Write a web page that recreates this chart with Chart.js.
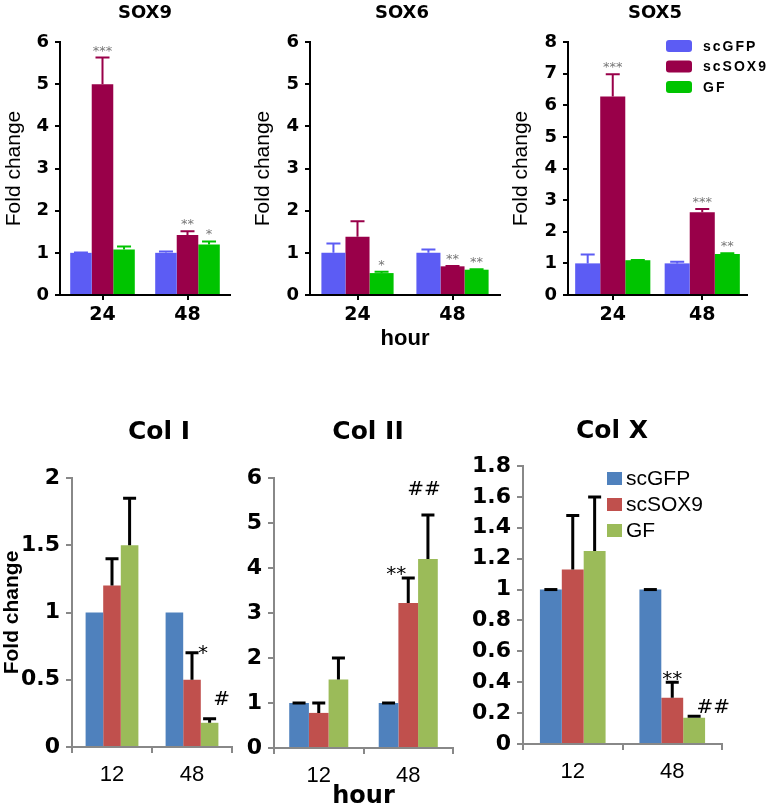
<!DOCTYPE html>
<html>
<head>
<meta charset="utf-8">
<script src="https://cdn.jsdelivr.net/npm/chart.js@4.4.1/dist/chart.umd.min.js"></script>
<style>
  body { margin: 0; background: #fff; width: 771px; height: 811px; overflow: hidden; position: relative; }
  canvas { position: absolute; }
</style>
</head>
<body>
<canvas id="sox9"></canvas>
<canvas id="sox6"></canvas>
<canvas id="sox5"></canvas>
<canvas id="col1"></canvas>
<canvas id="col2"></canvas>
<canvas id="colx"></canvas>
<script>
const groups = ['scGFP', 'scSOX9', 'GF'];
const hoursTop = ['24', '48'];
const hoursBottom = ['12', '48'];

// upper row (SOX genes), one array per group: [24 h, 48 h]
const sox9GFP = [1.0, 1.0], sox9SOX9 = [5.0, 1.42], sox9GF = [1.08, 1.2];
const sox9Err = [[0.01, 0.03], [0.63, 0.09], [0.07, 0.07]];
const sox9Stars = [['', ''], ['***', '**'], ['', '*']];

const sox6GFP = [1.0, 1.0], sox6SOX9 = [1.38, 0.68], sox6GF = [0.52, 0.6];
const sox6Err = [[0.22, 0.08], [0.37, 0.01], [0.03, 0.01]];
const sox6Stars = [['', ''], ['', '**'], ['*', '**']];

const sox5GFP = [1.0, 1.0], sox5SOX9 = [6.28, 2.62], sox5GF = [1.1, 1.3];
const sox5Err = [[0.28, 0.05], [0.7, 0.1], [0.01, 0.02]];
const sox5Stars = [['', ''], ['***', '***'], ['', '**']];

// lower row (collagens): [12 h, 48 h]
const col1GFP = [1.0, 1.0], col1SOX9 = [1.2, 0.5], col1GF = [1.5, 0.18];
const col1Err = [[null, null], [0.2, 0.2], [0.35, 0.03]];
const col1Marks = [['', ''], ['', '*'], ['', '#']];

const col2GFP = [1.0, 1.0], col2SOX9 = [0.78, 3.22], col2GF = [1.52, 4.2];
const col2Err = [[0, 0], [0.22, 0.56], [0.48, 0.98]];
const col2Marks = [['', ''], ['', '**'], ['', '##']];

const colxGFP = [1.0, 1.0], colxSOX9 = [1.13, 0.3], colxGF = [1.25, 0.17];
const colxErr = [[0, 0], [0.35, 0.1], [0.35, 0.01]];
const colxMarks = [['', ''], ['', '**'], ['', '##']];

const ticks6 = [0, 1, 2, 3, 4, 5, 6];
const ticks8 = [0, 1, 2, 3, 4, 5, 6, 7, 8];
const ticks2 = [0, 0.5, 1, 1.5, 2];
const ticks18 = [0, 0.2, 0.4, 0.6, 0.8, 1, 1.2, 1.4, 1.6, 1.8];

const topColors = ['#5c5cf4', '#990049', '#00c400'];
const botColors = ['#4f81bd', '#c0504d', '#9bbb59'];

const dv = (size, weight) => ({ family: 'DejaVu Sans', size, weight: weight || 'normal' });
const ls = (size, weight) => ({ family: 'Liberation Sans', size, weight: weight || 'normal' });
const css = f => `${f.weight} ${f.size}px "${f.family}"`;

const topStyle = {
  colors: topColors, errColor: null, errWidth: 2, capWidth: 14, catPct: 0.76,
  axisColor: '#000', tickLen: 5, yPad: 6, xPad: 4, xTickOffset: false,
  yTickFont: dv(18, 'bold'), xTickFont: dv(19, 'bold'), yTitleFont: ls(21), xTitleFont: ls(22, 'bold'),
  yTitlePad: 2, titleFont: dv(18, 'bold'), markFont: dv(13), markColor: '#777'
};
const botStyle = {
  colors: botColors, errColor: '#000', errWidth: 3, capWidth: 13, catPct: 0.66,
  axisColor: '#888', tickLen: 6, yPad: 6, xPad: 9, xTickOffset: true,
  yTickFont: dv(22, 'bold'), xTickFont: ls(22), yTitleFont: ls(21, 'bold'), xTitleFont: dv(24, 'bold'),
  yTitlePad: 0, titleFont: dv(25, 'bold'), markFont: dv(20), markColor: '#000'
};

const specs = {
  sox9: Object.assign({}, topStyle, {
    left: 0, top: 0, width: 250, height: 330, padTop: 42, padRight: 20, yW: 60, xH: 35,
    labels: hoursTop, series: [sox9GFP, sox9SOX9, sox9GF], errors: sox9Err, marks: sox9Stars,
    yMax: 6, yTicks: ticks6, yTitle: true, xTitle: false, title: 'SOX9', titleX: 145, titleY: 13
  }),
  sox6: Object.assign({}, topStyle, {
    left: 249, top: 0, width: 255, height: 352, padTop: 42, padRight: 4, yW: 61, xH: 57,
    labels: hoursTop, series: [sox6GFP, sox6SOX9, sox6GF], errors: sox6Err, marks: sox6Stars,
    yMax: 6, yTicks: ticks6, yTitle: true, xTitle: true, title: 'SOX6', titleX: 402, titleY: 13
  }),
  sox5: Object.assign({}, topStyle, {
    left: 507, top: 0, width: 264, height: 330, padTop: 42, padRight: 24, yW: 61, xH: 35, catPct: 0.84,
    labels: hoursTop, series: [sox5GFP, sox5SOX9, sox5GF], errors: sox5Err, marks: sox5Stars,
    yMax: 8, yTicks: ticks8, yTitle: true, xTitle: false, title: 'SOX5', titleX: 655, titleY: 13,
    legend: { dx: 98, dy: -2, boxW: 26, boxH: 12, row: 20.5, gap: 11, radius: 3, font: ls(14, 'bold'), spacing: '2px', rounded: true }
  }),
  col1: Object.assign({}, botStyle, {
    left: 0, top: 400, width: 250, height: 411, padTop: 78, padRight: 18, yW: 72, xH: 64,
    labels: hoursBottom, series: [col1GFP, col1SOX9, col1GF], errors: col1Err, marks: col1Marks,
    markOffsets: [[null, null], [null, [11, 6]], [null, [12, -14]]],
    yMax: 2, yTicks: ticks2, yTitle: true, xTitle: false, title: 'Col I', titleX: 159, titleY: 432
  }),
  col2: Object.assign({}, botStyle, {
    left: 240, top: 400, width: 240, height: 411, padTop: 78, padRight: 27, yW: 34, xH: 63,
    labels: hoursBottom, series: [col2GFP, col2SOX9, col2GF], errors: col2Err, marks: col2Marks,
    markOffsets: [[null, null], [null, [-12, 2]], [null, [-4, -20]]],
    yMax: 6, yTicks: ticks6, yTitle: false, xTitle: true, title: 'Col II', titleX: 368, titleY: 432
  }),
  colx: Object.assign({}, botStyle, {
    left: 455, top: 400, width: 316, height: 411, padTop: 66, padRight: 49, yW: 68, xH: 67,
    labels: hoursBottom, series: [colxGFP, colxSOX9, colxGF], errors: colxErr, marks: colxMarks,
    markOffsets: [[null, null], [null, [0, 3]], [null, [19, -3]]],
    yMax: 1.8, yTicks: ticks18, yTitle: false, xTitle: false, title: 'Col X', titleX: 612, titleY: 431,
    legend: { dx: 84, dy: 6, boxW: 15, boxH: 13, row: 26, gap: 4, radius: 0, font: ls(21), spacing: '0px', rounded: false }
  })
};

const errorBars = {
  id: 'errorBars',
  afterDatasetsDraw(chart) {
    const p = specs[chart.canvas.id], ctx = chart.ctx, y = chart.scales.y;
    ctx.save();
    p.series.forEach((vals, i) => {
      chart.getDatasetMeta(i).data.forEach((bar, j) => {
        const e = p.errors[i][j];
        if (e === null) return;
        const top = y.getPixelForValue(vals[j] + e);
        ctx.strokeStyle = p.errColor || p.colors[i];
        ctx.lineWidth = p.errWidth;
        ctx.beginPath();
        ctx.moveTo(bar.x, bar.y);
        ctx.lineTo(bar.x, top);
        ctx.moveTo(bar.x - p.capWidth / 2, top);
        ctx.lineTo(bar.x + p.capWidth / 2, top);
        ctx.stroke();
      });
    });
    ctx.restore();
  },
  afterDraw(chart) {
    const p = specs[chart.canvas.id], ctx = chart.ctx, y = chart.scales.y;
    ctx.save();
    // significance marks
    ctx.font = css(p.markFont);
    ctx.fillStyle = p.markColor;
    ctx.textAlign = 'center';
    ctx.textBaseline = 'alphabetic';
    p.series.forEach((vals, i) => {
      chart.getDatasetMeta(i).data.forEach((bar, j) => {
        const txt = p.marks[i][j];
        if (!txt) return;
        const off = p.markOffsets ? p.markOffsets[i][j] : [0, -3];
        const top = y.getPixelForValue(vals[j] + (p.errors[i][j] || 0));
        ctx.fillText(txt, bar.x + off[0], top + off[1]);
      });
    });
    // panel title
    ctx.font = css(p.titleFont);
    ctx.fillStyle = '#000';
    ctx.textBaseline = 'middle';
    ctx.fillText(p.title, p.titleX - p.left, p.titleY - p.top);
    // legend
    if (p.legend) {
      const L = p.legend, a = chart.chartArea;
      ctx.font = css(L.font);
      ctx.textAlign = 'left';
      ctx.letterSpacing = L.spacing;
      chart.data.datasets.forEach((ds, i) => {
        const bx = a.left + L.dx, by = a.top + L.dy + i * L.row;
        ctx.fillStyle = ds.backgroundColor;
        ctx.beginPath();
        if (L.rounded) ctx.roundRect(bx, by, L.boxW, L.boxH, L.radius);
        else ctx.rect(bx, by, L.boxW, L.boxH);
        ctx.fill();
        ctx.fillStyle = '#000';
        ctx.fillText(ds.label, bx + L.boxW + L.gap, by + L.boxH / 2 + 1);
      });
    }
    ctx.restore();
  }
};

function drawPanel(id) {
  const p = specs[id];
  const cv = document.getElementById(id);
  cv.width = p.width;
  cv.height = p.height;
  cv.style.left = p.left + 'px';
  cv.style.top = p.top + 'px';
  return new Chart(cv, {
    type: 'bar',
    data: {
      labels: p.labels,
      datasets: p.series.map((vals, i) => ({
        label: groups[i],
        data: vals,
        backgroundColor: p.colors[i],
        borderWidth: 0,
        categoryPercentage: p.catPct,
        barPercentage: 1
      }))
    },
    options: {
      responsive: false,
      animation: false,
      layout: { padding: { top: p.padTop, right: p.padRight, left: 0, bottom: 0 } },
      plugins: { legend: { display: false }, tooltip: { enabled: false }, title: { display: false } },
      scales: {
        x: {
          offset: true,
          grid: { drawOnChartArea: false, drawTicks: true, offset: p.xTickOffset, tickLength: p.tickLen, color: p.axisColor, lineWidth: 2 },
          border: { display: true, color: p.axisColor, width: 2 },
          ticks: { font: p.xTickFont, color: '#000', padding: p.xPad, maxRotation: 0 },
          title: { display: p.xTitle, text: 'hour', font: p.xTitleFont, color: '#000', padding: { top: 0, bottom: 0 } },
          afterFit: s => { s.height = p.xH; }
        },
        y: {
          min: 0,
          max: p.yMax,
          afterBuildTicks: s => { s.ticks = p.yTicks.map(v => ({ value: v })); },
          grid: { drawOnChartArea: false, drawTicks: true, tickLength: p.tickLen, color: p.axisColor, lineWidth: 2 },
          border: { display: true, color: p.axisColor, width: 2 },
          ticks: { font: p.yTickFont, color: '#000', padding: p.yPad, autoSkip: false, callback: v => String(+v.toFixed(2)) },
          title: { display: p.yTitle, text: 'Fold change', font: p.yTitleFont, color: '#000', padding: { top: p.yTitlePad, bottom: 0 } },
          afterFit: s => { s.width = p.yW; }
        }
      }
    },
    plugins: [errorBars]
  });
}

Object.keys(specs).forEach(drawPanel);
</script>
</body>
</html>
